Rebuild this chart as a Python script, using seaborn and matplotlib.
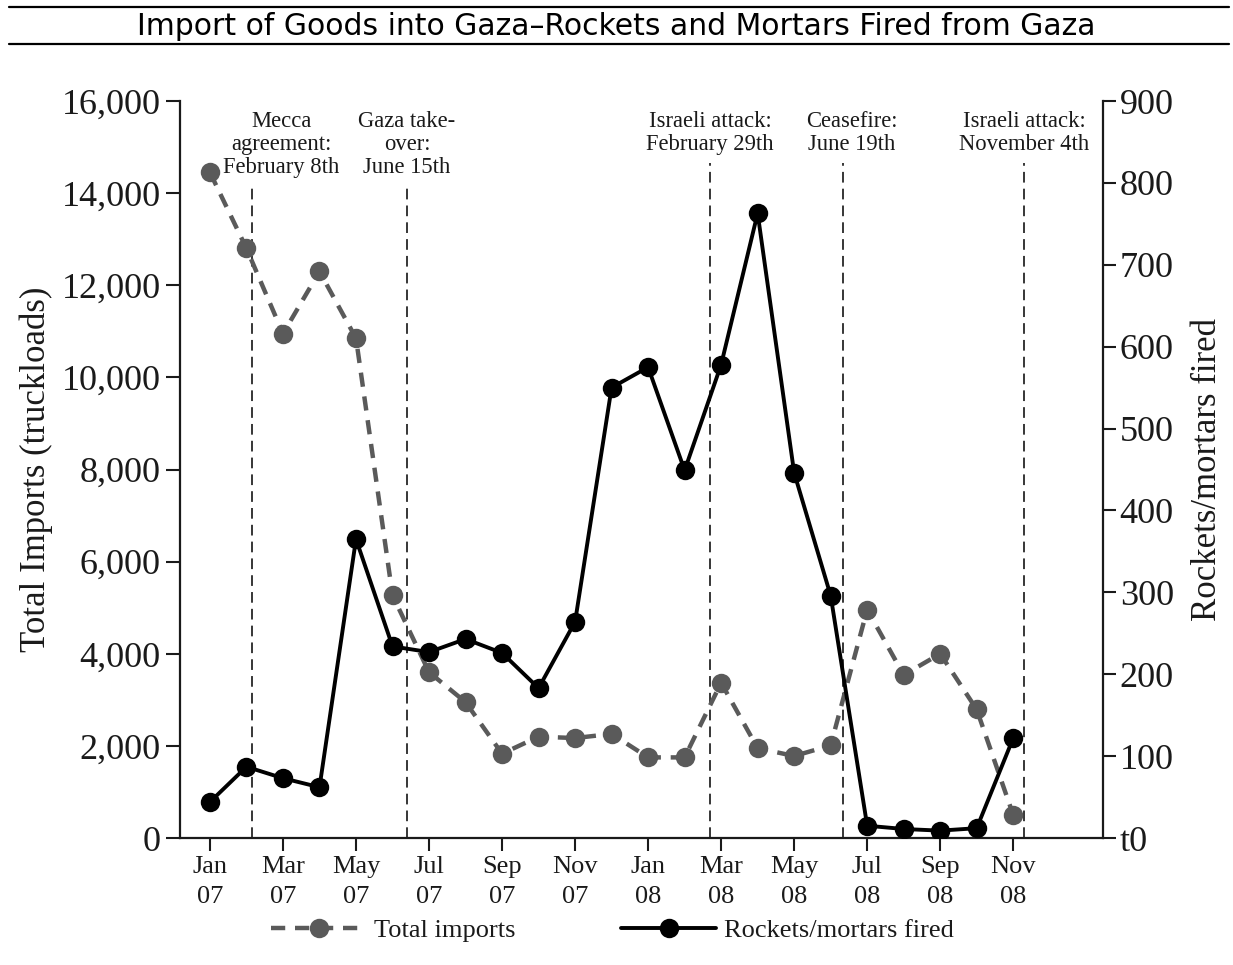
import pandas as pd
import seaborn as sns
import matplotlib.pyplot as plt
from matplotlib.lines import Line2D

# data (monthly, Jan 07 .. Nov 08)
months = ['Jan 07', 'Feb 07', 'Mar 07', 'Apr 07', 'May 07', 'Jun 07', 'Jul 07', 'Aug 07',
          'Sep 07', 'Oct 07', 'Nov 07', 'Dec 07', 'Jan 08', 'Feb 08', 'Mar 08', 'Apr 08',
          'May 08', 'Jun 08', 'Jul 08', 'Aug 08', 'Sep 08', 'Oct 08', 'Nov 08']
total_imports = [14450, 12800, 10950, 12300, 10850, 5270, 3600, 2950, 1830, 2200, 2170, 2260,
                 1750, 1750, 3370, 1950, 1780, 2010, 4960, 3540, 4000, 2790, 500]
rockets_fired = [44, 87, 73, 62, 365, 234, 227, 243, 226, 183, 264, 550,
                 575, 449, 578, 763, 446, 296, 15, 11, 9, 12, 122]

tick_labels = ['Jan\n07', 'Mar\n07', 'May\n07', 'Jul\n07', 'Sep\n07', 'Nov\n07',
               'Jan\n08', 'Mar\n08', 'May\n08', 'Jul\n08', 'Sep\n08', 'Nov\n08']

# events (position in months since Jan 07)
event_pos = [1.15, 5.4, 13.7, 17.34, 22.3]
event_text = ['Mecca\nagreement:\nFebruary 8th', 'Gaza take-\nover:\nJune 15th',
              'Israeli attack:\nFebruary 29th', 'Ceasefire:\nJune 19th',
              'Israeli attack:\nNovember 4th']

left_ticks = [0, 2000, 4000, 6000, 8000, 10000, 12000, 14000, 16000]
left_labels = ['0', '2,000', '4,000', '6,000', '8,000', '10,000', '12,000', '14,000', '16,000']
right_ticks = [0, 100, 200, 300, 400, 500, 600, 700, 800, 900]
right_labels = ['t0', '100', '200', '300', '400', '500', '600', '700', '800', '900']

df = pd.DataFrame({'month': range(len(months)), 'label': months,
                   'imports': total_imports, 'rockets': rockets_fired})

sns.set_theme(style='white')
plt.rcParams['font.family'] = ['Liberation Serif', 'DejaVu Serif']

GRAY = '#5a5a5a'
INK = '#1a1a1a'

fig = plt.figure(figsize=(12.33, 9.65), dpi=100)
ax = fig.add_axes([0.146, 0.1316, 0.7486, 0.7637])
ax2 = ax.twinx()

sns.lineplot(data=df, x='month', y='imports', ax=ax, color=GRAY, linewidth=3.2,
             linestyle=(0, (3.2, 2.2)), marker='o', markersize=14, markeredgewidth=0,
             label='Total imports', legend=False)
sns.lineplot(data=df, x='month', y='rockets', ax=ax2, color='black', linewidth=2.8,
             marker='o', markersize=14, markeredgewidth=0,
             label='Rockets/mortars fired', legend=False)

# event lines + labels
for pos, txt in zip(event_pos, event_text):
    n = txt.count('\n') + 1
    ax.axvline(pos, ymin=0, ymax=0.97 - n * 0.027, color='black',
               linewidth=1.1, linestyle=(0, (7, 4)), zorder=1)
    dx = 21 if txt.startswith('Mecca') else (6 if txt.startswith('Cease') else 0)
    ax.annotate(txt, xy=(pos, 0.986), xycoords=('data', 'axes fraction'),
                xytext=(dx, 0), textcoords='offset points',
                ha='center', va='top', fontsize=16.3, linespacing=1.1, color=INK)

ax.set_xlim(-0.82, 24.46)
ax.set_ylim(0, 16000)
ax2.set_ylim(0, 900)

ax.set_xticks(range(0, len(months), 2))
ax.set_xticklabels(tick_labels, fontsize=19, linespacing=1.45, color=INK)
ax.set_yticks(left_ticks)
ax.set_yticklabels(left_labels, fontsize=26, color=INK)
ax2.set_yticks(right_ticks)
ax2.set_yticklabels(right_labels, fontsize=26, color=INK)

ax.tick_params(axis='x', direction='out', length=9, width=1.5, color=INK, pad=4, bottom=True)
ax.tick_params(axis='y', direction='out', length=10, width=1.5, color=INK, pad=4, left=True)
ax2.tick_params(axis='y', direction='out', length=9, width=1.5, color=INK, pad=3, right=True)

ax.set_xlabel('')
ax.set_ylabel('Total Imports (truckloads)', fontsize=25, color=INK, labelpad=6)
ax2.set_ylabel('Rockets/mortars fired', fontsize=25, color=INK, labelpad=12)

for a in (ax, ax2):
    a.spines['top'].set_visible(False)
    for s in a.spines.values():
        s.set_linewidth(1.6)
        s.set_color(INK)
ax.spines['right'].set_visible(False)
ax2.spines['left'].set_visible(False)
ax2.spines['bottom'].set_visible(False)

h1, l1 = ax.get_legend_handles_labels()
h2, l2 = ax2.get_legend_handles_labels()
fig.legend(h1 + h2, l1 + l2, loc='center', bbox_to_anchor=(0.497, 0.036), ncol=2,
           frameon=False, fontsize=19, handlelength=3.6, columnspacing=4.0,
           handletextpad=0.3, labelcolor=INK)

# title band
fig.text(0.5, 0.973, 'Import of Goods into Gaza\u2013Rockets and Mortars Fired from Gaza',
         ha='center', va='center', fontsize=21.5, family='DejaVu Sans', color='black')
fig.add_artist(Line2D([0.007, 0.997], [0.9927, 0.9927], color='black', linewidth=1.6))
fig.add_artist(Line2D([0.007, 0.997], [0.9544, 0.9544], color='black', linewidth=1.6))

fig.savefig('out.png', dpi=100)
